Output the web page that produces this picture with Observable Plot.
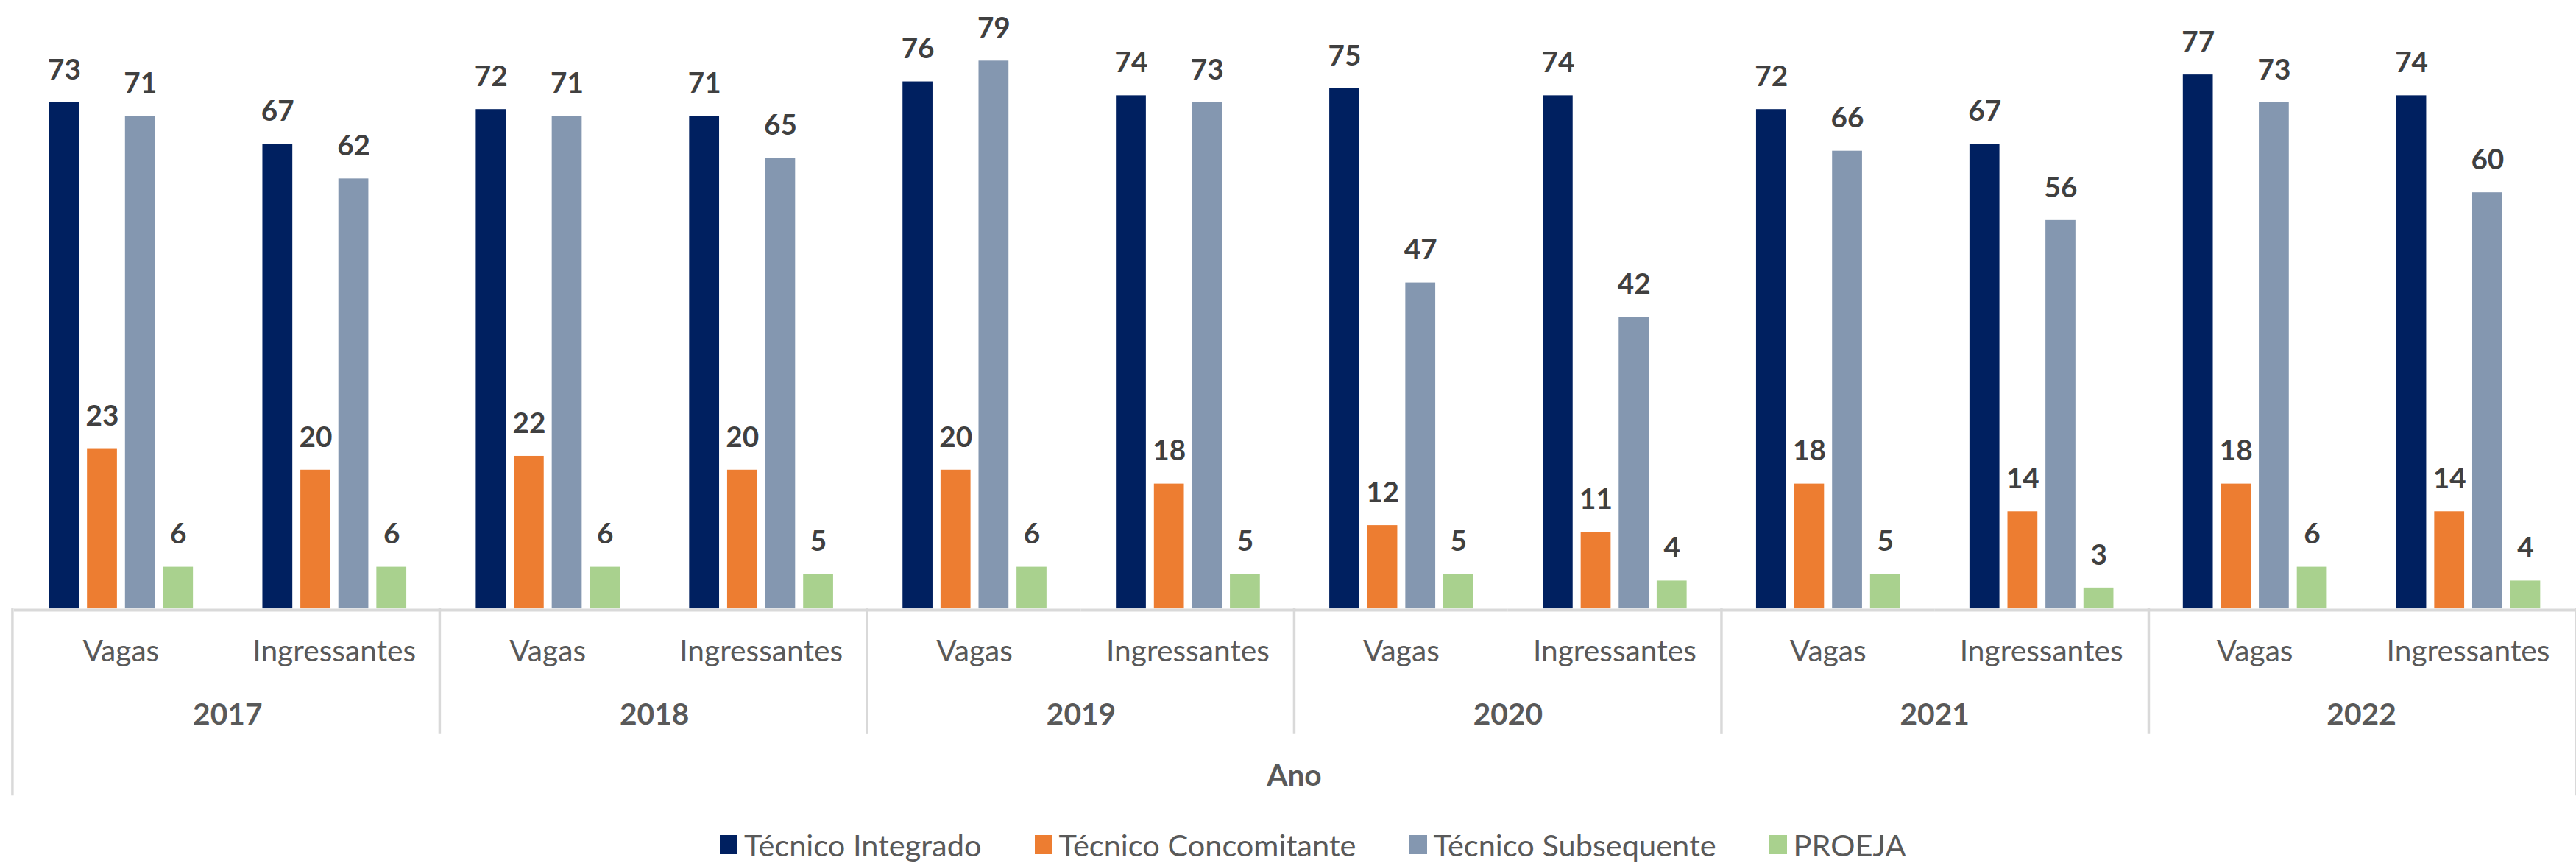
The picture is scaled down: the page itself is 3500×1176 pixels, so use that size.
<!DOCTYPE html>
<html>
<head>
<meta charset="utf-8">
<script src="https://cdn.jsdelivr.net/npm/d3@7"></script>
<script src="https://cdn.jsdelivr.net/npm/@observablehq/plot@0.6"></script>
<style>
  html, body { margin: 0; padding: 0; background: #fff; overflow: hidden; width: 3500px; height: 1176px; }
  #chart svg { display: block; }
  #legend { display: flex; align-items: center; height: 26px; padding-top: 42px; padding-left: 978px; font-family: Lato, sans-serif; font-size: 41.5px; color: #595959; }
  .item { display: flex; align-items: center; margin-right: 72px; white-space: nowrap; }
  .sw { width: 24px; height: 26px; margin-right: 9px; flex: none; }
</style>
</head>
<body>
<div id="chart"></div>
<div id="legend"></div>
<script>
// ---- data ----
const years = ["2017", "2018", "2019", "2020", "2021", "2022"];
const categories = ["Vagas", "Ingressantes"];
const series = ["Técnico Integrado", "Técnico Concomitante", "Técnico Subsequente", "PROEJA"];
// values in order: 2017 Vagas, 2017 Ingressantes, 2018 Vagas, ...
const integrado    = [73, 67, 72, 71, 76, 74, 75, 74, 72, 67, 77, 74];
const concomitante = [23, 20, 22, 20, 20, 18, 12, 11, 18, 14, 18, 14];
const subsequente  = [71, 62, 71, 65, 79, 73, 47, 42, 66, 56, 73, 60];
const proeja       = [6, 6, 6, 5, 6, 5, 5, 4, 5, 3, 6, 4];
const colors = ["#002060", "#ED7D31", "#8497B0", "#A9D18E"];
const axisTitle = "Ano";

// ---- build tables ----
const seriesValues = [integrado, concomitante, subsequente, proeja];
const groups = [];
years.forEach(y => categories.forEach(c => groups.push({key: y + " " + c, year: y, category: c})));
const groupKeys = groups.map(g => g.key);
const rows = [];
groups.forEach((g, i) => series.forEach((s, j) => rows.push({group: g.key, year: g.year, category: g.category, series: s, value: seriesValues[j][i]})));

const plot = Plot.plot({
  width: 3525,
  height: 1100,
  marginLeft: 17,
  marginRight: 0,
  marginTop: 26,
  marginBottom: 268,
  style: {fontFamily: "Lato, sans-serif", fontSize: "41px", background: "#fff", overflow: "visible"},
  fx: {domain: groupKeys, padding: 0, axis: null},
  x: {domain: series, paddingInner: 0.22, paddingOuter: 0.87, axis: null},
  y: {domain: [0, 85], axis: null},
  color: {domain: series, range: colors},
  marks: [
    Plot.ruleY([0], {stroke: "#d9d9d9", strokeWidth: 4, dy: 2}),
    Plot.barY(rows, {fx: "group", x: "series", y: "value", fill: "series"}),
    Plot.text(rows, {fx: "group", x: "series", y: "value", text: d => String(d.value), dy: -32, lineAnchor: "bottom", fontWeight: "bold", fontSize: 39, fill: "#404040"}),
    Plot.text(groups, {fx: "key", text: "category", frameAnchor: "bottom", lineAnchor: "bottom", dy: 72, fill: "#595959"}),
    Plot.text(years, {fx: d => d + " Vagas", text: d => d, frameAnchor: "bottom-right", textAnchor: "middle", lineAnchor: "bottom", dy: 159, fontWeight: "bold", fill: "#595959"})
  ]
});

// ---- multi-level axis separators and axis title, positioned with the plot's own scales ----
const fxs = plot.scale("fx");
const fx = d3.scaleBand(fxs.domain, fxs.range)
  .paddingInner(fxs.paddingInner ?? fxs.padding ?? 0)
  .paddingOuter(fxs.paddingOuter ?? fxs.padding ?? 0)
  .align(fxs.align ?? 0.5);
const ys = plot.scale("y");
const y0 = d3.scaleLinear(ys.domain, ys.range)(0);
const svg = d3.select(plot);
const g = svg.append("g").attr("stroke", "#d9d9d9").attr("stroke-width", 3.5);
years.forEach((yr, i) => {
  const x = fx(yr + " Vagas");
  g.append("line").attr("x1", x).attr("x2", x).attr("y1", y0).attr("y2", y0 + (i === 0 ? 256 : 172));
});
const xEnd = fx.range()[1];
g.append("line").attr("x1", xEnd).attr("x2", xEnd).attr("y1", y0).attr("y2", y0 + 256);
svg.append("text")
  .attr("x", (fx.range()[0] + fx.range()[1]) / 2)
  .attr("y", y0 + 243)
  .attr("text-anchor", "middle")
  .attr("font-weight", "bold")
  .attr("fill", "#595959")
  .text(axisTitle);

document.getElementById("chart").appendChild(plot);

// ---- legend ----
const legend = d3.select("#legend");
series.forEach((s, i) => {
  const it = legend.append("div").attr("class", "item");
  it.append("div").attr("class", "sw").style("background", colors[i]);
  it.append("span").text(s);
});
</script>
</body>
</html>
